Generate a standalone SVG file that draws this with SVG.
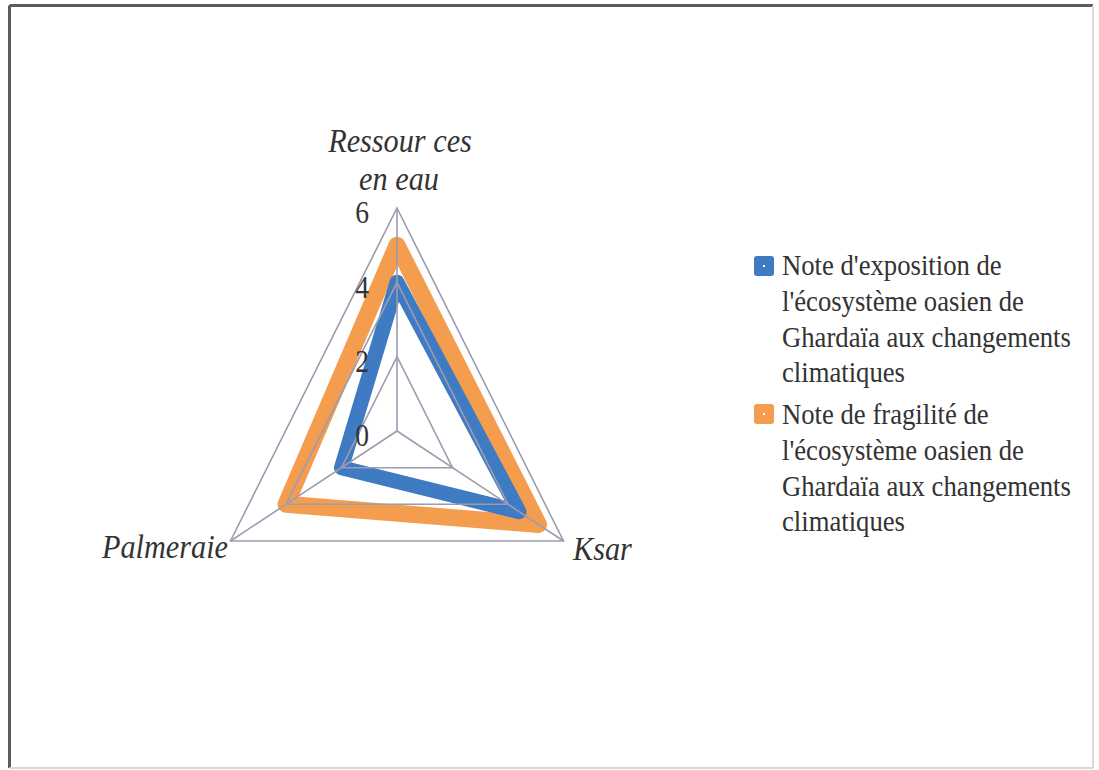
<svg xmlns="http://www.w3.org/2000/svg" width="1099" height="770" viewBox="0 0 1099 770">
<style>
.grid{fill:none;stroke:#9c9cb0;stroke-width:1.6}
.ser{fill:none;stroke-linejoin:round;stroke-linecap:round}
.blue{stroke:#3e7bc3;stroke-width:15}
.orange{stroke:#f59d4f;stroke-width:17}
.ax{font-family:"Liberation Serif","Times New Roman",serif;font-style:italic;font-size:34px;fill:#333}
.tick{font-family:"Liberation Serif","Times New Roman",serif;font-size:31px;fill:#333;text-anchor:end}
.leg{font-family:"Liberation Serif","Times New Roman",serif;font-size:30px;fill:#333}
</style>
<rect x="0" y="0" width="1099" height="770" fill="#ffffff"/>
<g id="frame">
<line x1="9.5" y1="5.5" x2="1093" y2="5.5" stroke="#5a5a60" stroke-width="3"/>
<line x1="9.5" y1="5.5" x2="9.5" y2="768" stroke="#5a5a60" stroke-width="3"/>
<line x1="1093" y1="5.5" x2="1093" y2="768" stroke="#d8d8dc" stroke-width="2"/>
<line x1="9.5" y1="768" x2="1093" y2="768" stroke="#d8d8dc" stroke-width="2"/>
</g>
<g id="series">
<polygon class="ser orange" points="397,245.2 538.5,524.5 286,504.3"/>
<polygon class="ser blue" points="397,282.3 519,511.7 341.5,467.7"/>
</g>
<g id="connectors">
<polygon class="grid" points="397,356.7 452.5,467.7 341.5,467.7"/>
<polygon class="grid" points="397,282.3 508,504.3 286,504.3"/>
<polygon class="grid" points="397,208 563.5,541 230.5,541"/>
<line class="grid" x1="397" y1="431" x2="397" y2="208"/>
<line class="grid" x1="397" y1="431" x2="563.5" y2="541"/>
<line class="grid" x1="397" y1="431" x2="230.5" y2="541"/>
</g>
<g id="ticks">
<text class="tick" transform="translate(369,223) scale(0.89,1)">6</text>
<text class="tick" transform="translate(369,297.5) scale(0.89,1)">4</text>
<text class="tick" transform="translate(369,372) scale(0.89,1)">2</text>
<text class="tick" transform="translate(369,446) scale(0.89,1)">0</text>
</g>
<g id="axis-ressources">
<text class="ax" text-anchor="middle" transform="translate(400,152) scale(0.89,1)">Ressour ces</text>
<text class="ax" text-anchor="middle" transform="translate(399,190) scale(0.89,1)">en eau</text>
</g>
<g id="axis-palmeraie">
<text class="ax" text-anchor="end" transform="translate(228,558) scale(0.89,1)">Palmeraie</text>
</g>
<g id="axis-ksar">
<text class="ax" transform="translate(573,560) scale(0.89,1)">Ksar</text>
</g>
<g id="legend-exposition">
<rect x="754" y="256" width="20" height="20" rx="3" fill="#3e7bc3"/>
<rect x="763" y="265" width="2" height="2" fill="#ffffff"/>
<text class="leg" transform="translate(782,0) scale(0.89,1)"><tspan x="0" y="275">Note d'exposition de</tspan><tspan x="0" y="311">l'écosystème oasien de</tspan><tspan x="0" y="347">Ghardaïa aux changements</tspan><tspan x="0" y="382">climatiques</tspan></text>
</g>
<g id="legend-fragilite">
<rect x="754" y="404" width="20" height="20" rx="3" fill="#f59d4f"/>
<rect x="763" y="413" width="2" height="2" fill="#ffffff"/>
<text class="leg" transform="translate(782,0) scale(0.89,1)"><tspan x="0" y="424">Note de fragilité de</tspan><tspan x="0" y="460">l'écosystème oasien de</tspan><tspan x="0" y="496">Ghardaïa aux changements</tspan><tspan x="0" y="531">climatiques</tspan></text>
</g>
</svg>
